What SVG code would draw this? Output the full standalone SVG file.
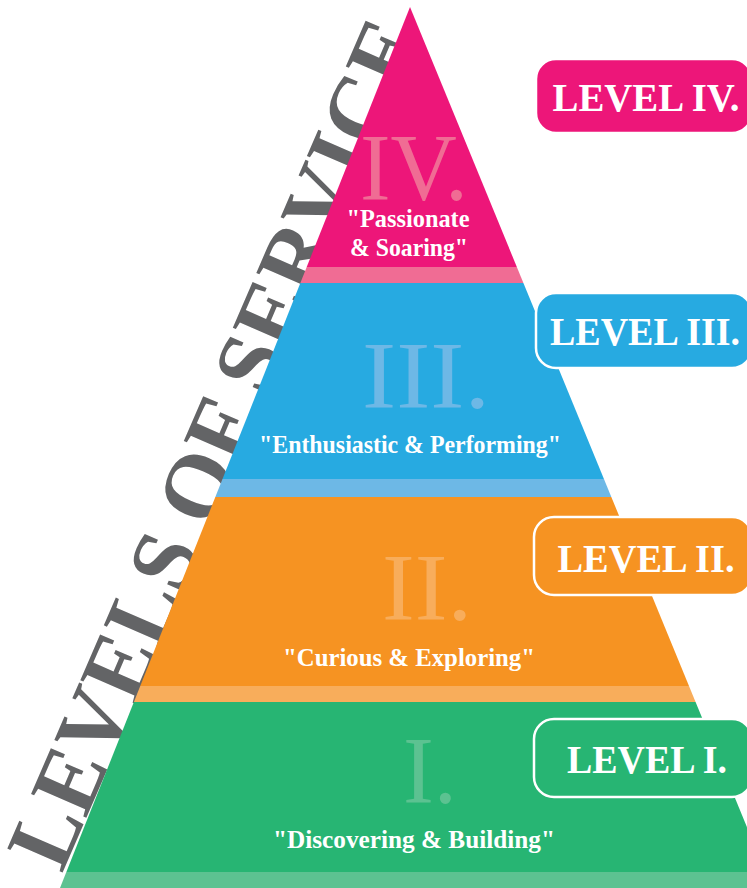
<svg xmlns="http://www.w3.org/2000/svg" width="747" height="888" viewBox="0 0 747 888">
<style>
.serif{font-family:"Liberation Serif","Times New Roman",serif;}
.num{font-size:96px;font-weight:normal;}
.sub{font-size:25px;font-weight:bold;fill:#ffffff;text-anchor:middle;}
.lbl{font-size:40px;font-weight:bold;fill:#ffffff;text-anchor:middle;}
.box{stroke:#ffffff;stroke-width:2.5;}
</style>
<defs>
<clipPath id="pyr"><polygon points="410,7 772,888 60,888"/></clipPath>
</defs>
<rect width="747" height="888" fill="#ffffff"/>
<g id="title">
<text class="serif" font-size="92" font-weight="bold" fill="#636466" transform="translate(62,874) rotate(-66.6)" textLength="912" lengthAdjust="spacingAndGlyphs">LEVELS OF SERVICE</text>
</g>
<g id="pyramid" clip-path="url(#pyr)">
<g id="level4">
<rect x="0" y="0" width="800" height="267" fill="#ED1679"/>
<rect x="0" y="267" width="800" height="16" fill="#F06C94"/>
</g>
<g id="level3">
<rect x="0" y="283" width="800" height="196" fill="#27AAE1"/>
<rect x="0" y="479" width="800" height="18" fill="#6DB8E6"/>
</g>
<g id="level2">
<rect x="0" y="497" width="800" height="189" fill="#F69322"/>
<rect x="0" y="686" width="800" height="16" fill="#F8AD5B"/>
</g>
<g id="level1">
<rect x="0" y="702" width="800" height="170" fill="#27B573"/>
<rect x="0" y="872" width="800" height="16" fill="#5CC291"/>
</g>
</g>
<g id="numerals" class="serif">
<text class="num" x="360" y="200" fill="#F06C94" textLength="108" lengthAdjust="spacingAndGlyphs">IV.</text>
<text class="num" x="362" y="408" fill="#6DB8E6" textLength="128" lengthAdjust="spacingAndGlyphs">III.</text>
<text class="num" x="382" y="620" fill="#F8AD5B" textLength="90" lengthAdjust="spacingAndGlyphs">II.</text>
<text class="num" x="403" y="803" fill="#5CC291" textLength="54" lengthAdjust="spacingAndGlyphs">I.</text>
</g>
<g id="subtitles" class="serif">
<text class="sub" x="408" y="227" textLength="123" lengthAdjust="spacingAndGlyphs">"Passionate</text>
<text class="sub" x="409" y="256" textLength="118" lengthAdjust="spacingAndGlyphs">&amp; Soaring"</text>
<text class="sub" x="410" y="453" textLength="302" lengthAdjust="spacingAndGlyphs">"Enthusiastic &amp; Performing"</text>
<text class="sub" x="409" y="666" textLength="252" lengthAdjust="spacingAndGlyphs">"Curious &amp; Exploring"</text>
<text class="sub" x="414" y="848" textLength="282" lengthAdjust="spacingAndGlyphs">"Discovering &amp; Building"</text>
</g>
<g id="label4">
<rect class="box" x="536" y="59" width="216" height="74" rx="20" fill="#ED1679"/>
<text class="serif lbl" x="646" y="111" textLength="187" lengthAdjust="spacingAndGlyphs">LEVEL IV.</text>
</g>
<g id="label3">
<rect class="box" x="536" y="293" width="216" height="75" rx="20" fill="#27AAE1"/>
<text class="serif lbl" x="645" y="345" textLength="190" lengthAdjust="spacingAndGlyphs">LEVEL III.</text>
</g>
<g id="label2">
<rect class="box" x="534" y="517" width="218" height="78" rx="20" fill="#F69322"/>
<text class="serif lbl" x="646" y="572" textLength="177" lengthAdjust="spacingAndGlyphs">LEVEL II.</text>
</g>
<g id="label1">
<rect class="box" x="534" y="719" width="218" height="78" rx="20" fill="#27B573"/>
<text class="serif lbl" x="647" y="773" textLength="160" lengthAdjust="spacingAndGlyphs">LEVEL I.</text>
</g>
<g id="connectors"/>
</svg>
